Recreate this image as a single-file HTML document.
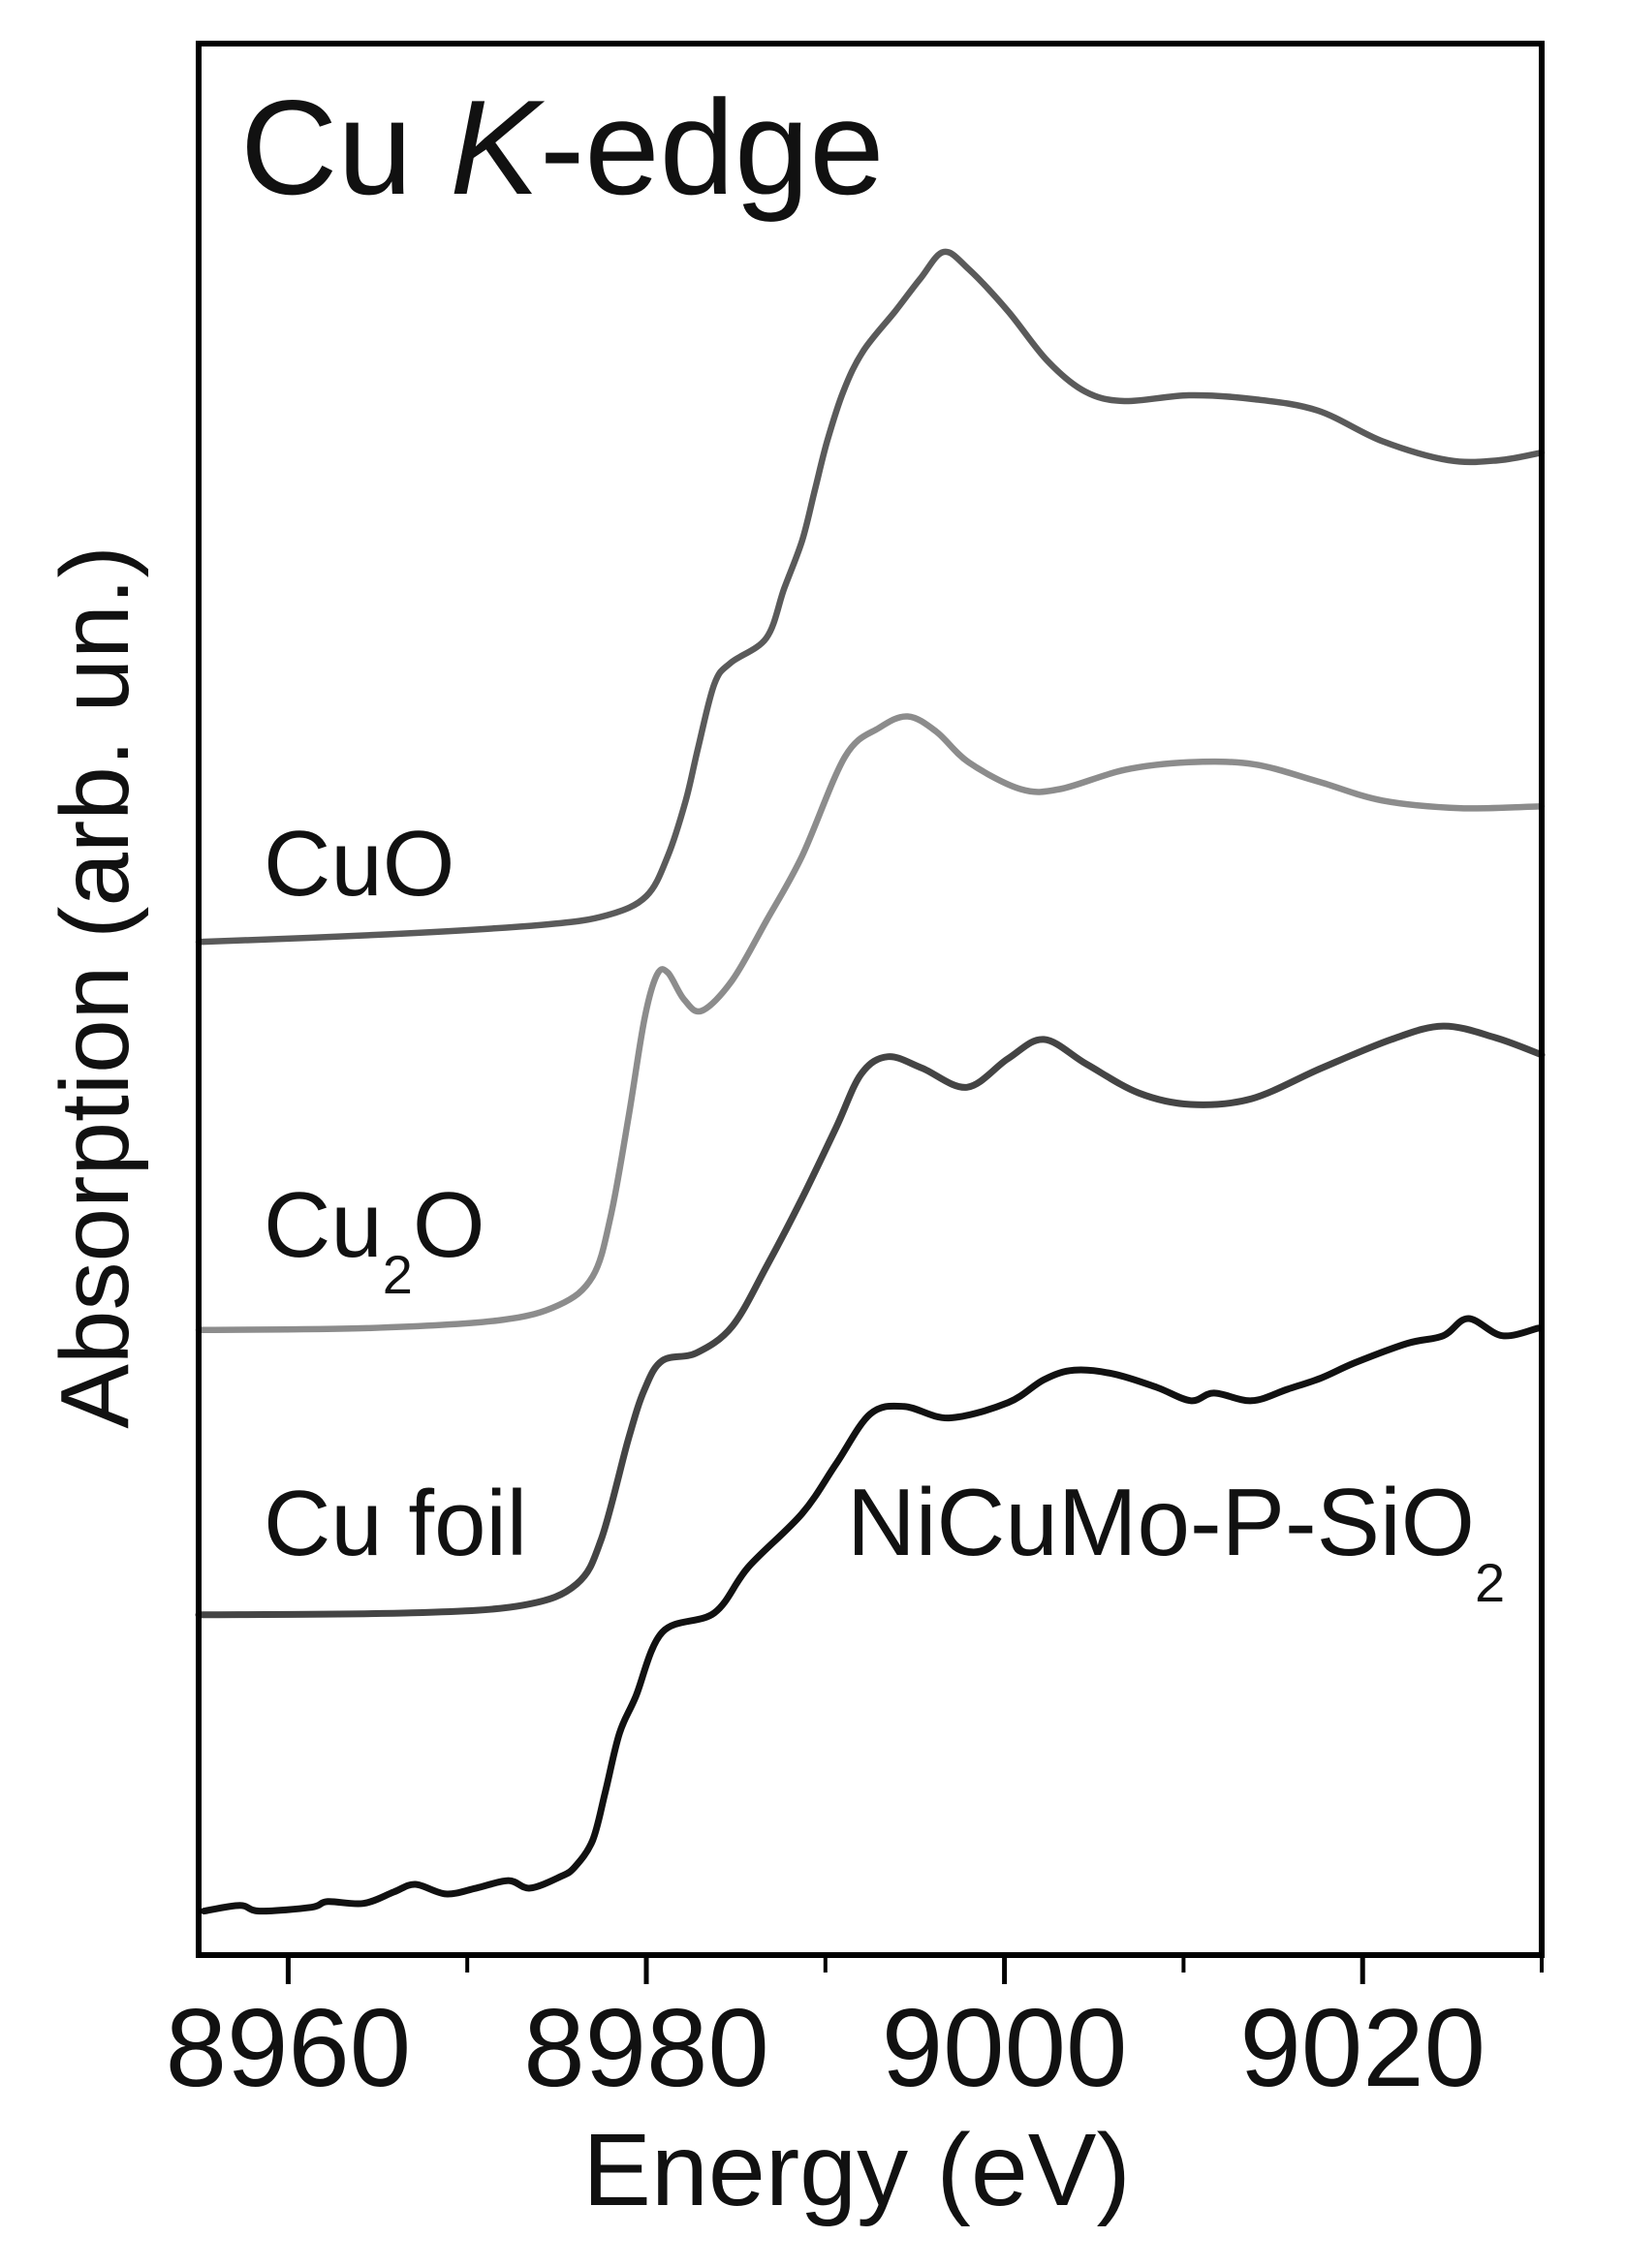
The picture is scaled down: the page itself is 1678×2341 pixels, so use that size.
<!DOCTYPE html>
<html><head><meta charset="utf-8"><style>
html,body{margin:0;padding:0;background:#fff;}
svg{display:block;}
text{font-family:"Liberation Sans",sans-serif;fill:#111;}
</style></head><body>
<svg id="chart" width="1678" height="2341" viewBox="0 0 1678 2341" xmlns="http://www.w3.org/2000/svg">
<rect x="0" y="0" width="1678" height="2341" fill="#fff"/>
<g id="series"></g>
<rect x="205" y="45" width="1386" height="1973" fill="none" stroke="#000" stroke-width="6"/>
<g id="xticks"></g>
<text x="248" y="200" font-size="139" fill="#222">Cu <tspan font-style="italic">K</tspan>-edge</text>
<text x="272" y="924" font-size="96">CuO</text>
<text x="272" y="1297" font-size="96">Cu<tspan font-size="56" dy="38">2</tspan><tspan dy="-38">O</tspan></text>
<text x="272" y="1605" font-size="96">Cu foil</text>
<text x="874" y="1605" font-size="98">NiCuMo-P-SiO<tspan font-size="56" dy="48">2</tspan></text>
<text x="884" y="2276" font-size="106" text-anchor="middle">Energy (eV)</text>
<text transform="translate(132,1019) rotate(-90)" font-size="100" text-anchor="middle">Absorption (arb. un.)</text>
</svg>
<script>
const xTicksMajor = [8960, 8980, 9000, 9020];
const xTicksMinor = [8970, 8990, 9010, 9030];
const cuoE = [8955.0,8965.6,8974.2,8977.8,8980.0,8981.2,8982.2,8982.9,8983.8,8984.7,8986.7,8987.7,8988.7,8989.4,8990.1,8991.0,8992.1,8993.9,8995.3,8996.6,8998.0,9000.2,9002.4,9004.5,9006.7,9010.3,9013.9,9017.5,9021.1,9024.8,9027.6,9030.0];
const cuoA = [5.30,5.34,5.39,5.44,5.54,5.75,6.04,6.32,6.65,6.76,6.89,7.15,7.40,7.66,7.92,8.18,8.39,8.60,8.77,8.91,8.82,8.60,8.34,8.18,8.13,8.16,8.14,8.08,7.92,7.82,7.82,7.86];
const cu2oE = [8955.0,8964.4,8971.7,8975.1,8977.0,8978.0,8979.0,8979.9,8980.6,8981.2,8982.1,8983.1,8984.8,8986.7,8988.7,8991.1,8993.0,8994.6,8996.2,8998.0,9000.9,9003.1,9006.7,9010.3,9013.9,9017.5,9021.1,9025.5,9030.0];
const cu2oA = [3.27,3.28,3.32,3.40,3.55,3.86,4.38,4.90,5.13,5.14,5.00,4.94,5.10,5.41,5.75,6.27,6.42,6.48,6.40,6.24,6.10,6.10,6.20,6.24,6.23,6.14,6.04,6.00,6.01];
const foilE = [8955.0,8966.9,8973.1,8976.1,8977.5,8979.0,8979.9,8980.9,8982.8,8984.8,8986.7,8988.7,8990.6,8992.0,8993.5,8995.4,8997.9,9000.2,9002.2,9004.6,9007.5,9010.4,9013.8,9017.7,9021.6,9024.5,9027.4,9030.0];
const foilA = [1.78,1.79,1.83,1.94,2.18,2.70,2.96,3.11,3.15,3.29,3.60,3.96,4.33,4.61,4.70,4.64,4.54,4.69,4.79,4.66,4.51,4.45,4.48,4.64,4.79,4.86,4.80,4.71];
const sampleE = [8955.3,8957.3,8958.4,8961.3,8962.2,8964.2,8965.9,8967.1,8968.8,8970.5,8972.3,8973.5,8975.2,8976.0,8977.0,8977.7,8978.5,8979.4,8980.9,8983.8,8985.7,8988.7,8990.6,8992.5,8994.4,8996.9,9000.2,9002.2,9003.9,9006.1,9008.5,9010.4,9011.7,9013.8,9015.8,9017.7,9019.6,9022.5,9024.5,9025.9,9027.8,9029.8];
const sampleA = [0.23,0.26,0.23,0.25,0.28,0.27,0.33,0.37,0.32,0.35,0.39,0.35,0.41,0.46,0.60,0.85,1.16,1.35,1.69,1.79,2.03,2.31,2.57,2.83,2.87,2.81,2.89,3.01,3.06,3.04,2.97,2.90,2.94,2.90,2.96,3.02,3.10,3.20,3.24,3.33,3.24,3.28];

const NS = 'http://www.w3.org/2000/svg';
const X0 = 205, X1 = 1591, Y0 = 2018, Y1 = 45;
const E_MIN = 8955, E_MAX = 9030, A_MIN = 0, A_MAX = 10;
function xScale(e){ return X0 + (e - E_MIN) / (E_MAX - E_MIN) * (X1 - X0); }
function yScale(a){ return Y0 - (a - A_MIN) / (A_MAX - A_MIN) * (Y0 - Y1); }

function smoothPath(pts){
  let d = 'M' + pts[0][0].toFixed(1) + ',' + pts[0][1].toFixed(1);
  for (let i = 0; i < pts.length - 1; i++){
    const p0 = pts[i-1] || pts[i], p1 = pts[i], p2 = pts[i+1], p3 = pts[i+2] || p2;
    const c1x = p1[0] + (p2[0]-p0[0])/6, c1y = p1[1] + (p2[1]-p0[1])/6;
    const c2x = p2[0] - (p3[0]-p1[0])/6, c2y = p2[1] - (p3[1]-p1[1])/6;
    d += ' C' + c1x.toFixed(1)+','+c1y.toFixed(1)+' '+c2x.toFixed(1)+','+c2y.toFixed(1)+' '+p2[0].toFixed(1)+','+p2[1].toFixed(1);
  }
  return d;
}

const sg = document.getElementById('series');
function drawSeries(es, as, color, width, name){
  const pts = es.map((e, i) => [xScale(e), yScale(as[i])]);
  const p = document.createElementNS(NS, 'path');
  p.setAttribute('d', smoothPath(pts));
  p.setAttribute('fill', 'none');
  p.setAttribute('stroke', color);
  p.setAttribute('stroke-width', width);
  p.setAttribute('stroke-linejoin', 'round');
  p.setAttribute('stroke-linecap', 'round');
  
  
  sg.appendChild(p);
}
drawSeries(cuoE, cuoA, '#5a5a5a', 6.5, 'line-cuo');
drawSeries(cu2oE, cu2oA, '#8c8c8c', 6.5, 'line-cu2o');
drawSeries(foilE, foilA, '#444', 7, 'line-cu-foil');
drawSeries(sampleE, sampleA, '#111', 7, 'line-nicumo-p-sio2');

const xg = document.getElementById('xticks');
xTicksMajor.forEach(v => {
  const l = document.createElementNS(NS, 'line');
  l.setAttribute('x1', xScale(v)); l.setAttribute('x2', xScale(v));
  l.setAttribute('y1', Y0); l.setAttribute('y2', Y0 + 30);
  l.setAttribute('stroke', '#000'); l.setAttribute('stroke-width', 5);
  
  
  xg.appendChild(l);
  const t = document.createElementNS(NS, 'text');
  t.setAttribute('x', xScale(v)); t.setAttribute('y', 2153);
  t.setAttribute('font-size', '114'); t.setAttribute('text-anchor', 'middle');
  t.textContent = v;
  
  
  xg.appendChild(t);
});
xTicksMinor.forEach(v => {
  const l = document.createElementNS(NS, 'line');
  l.setAttribute('x1', xScale(v)); l.setAttribute('x2', xScale(v));
  l.setAttribute('y1', Y0); l.setAttribute('y2', Y0 + 18);
  l.setAttribute('stroke', '#000'); l.setAttribute('stroke-width', 4);
  
  
  xg.appendChild(l);
});
</script>
</body></html>
